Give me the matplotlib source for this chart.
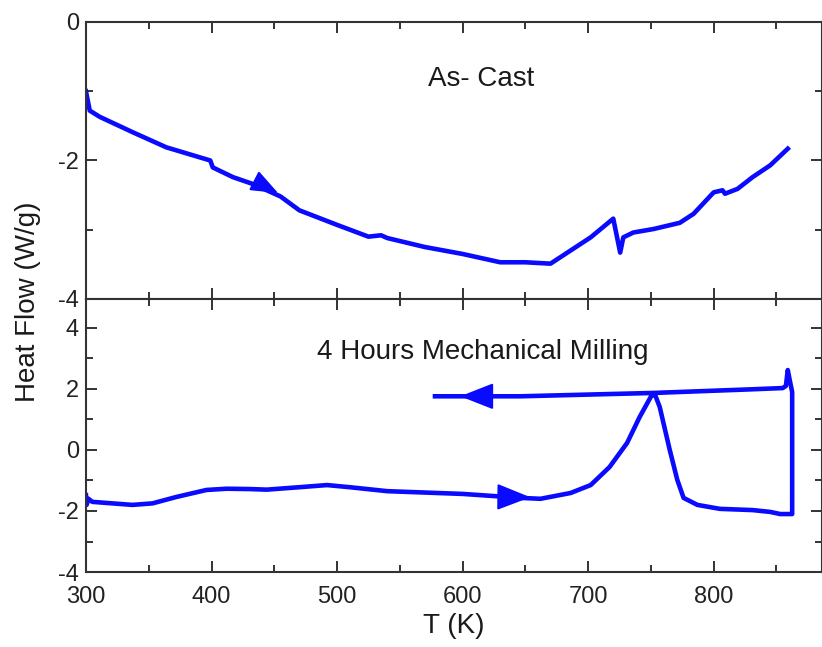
import matplotlib
matplotlib.use("Agg")
import matplotlib.pyplot as plt
from matplotlib.ticker import MultipleLocator

plt.rcParams["font.family"] = ["Liberation Sans", "DejaVu Sans"]
plt.rcParams["axes.unicode_minus"] = False

# As-cast DSC trace (heating)
cast_T = [300, 300.5, 303, 311, 337, 364, 399, 401, 417, 433, 455, 470, 500, 525, 535,
          540, 570, 600, 630, 650, 670, 686, 702, 720, 725.5, 728, 736, 752, 773, 784,
          800, 807, 809, 819, 831, 845, 859]
cast_hf = [-1.0, -1.05, -1.28, -1.37, -1.59, -1.81, -2.00, -2.10, -2.24, -2.34, -2.52,
           -2.72, -2.93, -3.10, -3.08, -3.12, -3.25, -3.35, -3.47, -3.47, -3.49, -3.30,
           -3.11, -2.84, -3.33, -3.11, -3.04, -2.99, -2.90, -2.77, -2.46, -2.43, -2.48,
           -2.41, -2.24, -2.07, -1.83]

# 4 h milled trace: heating up to ~862 K, then cooling back
mill_T = [300, 300.5, 302, 305, 337, 353, 372, 396, 412, 430, 444, 470, 492, 510, 540,
          600, 646, 662, 686, 702, 717, 731, 741, 750, 753, 757, 765, 771, 776, 787, 805,
          831, 845, 853, 862.5, 862.5, 861, 859, 857.5, 855, 831, 752, 646, 578]
mill_hf = [-1.48, -1.8, -1.6, -1.7, -1.8, -1.75, -1.54, -1.31, -1.27, -1.28, -1.30,
           -1.22, -1.15, -1.22, -1.35, -1.44, -1.57, -1.60, -1.41, -1.15, -0.56, 0.23,
           1.08, 1.75, 1.84, 1.41, 0.0, -0.98, -1.57, -1.80, -1.93, -1.97, -2.03, -2.10,
           -2.10, 1.9, 2.2, 2.62, 2.1, 2.03, 1.99, 1.87, 1.76, 1.76]

# arrows: (base T, base HF, tip T, tip HF)
cast_arrows = [(438, -2.33, 453, -2.47)]
mill_arrows = [(634, -1.54, 654, -1.55), (616, 1.76, 598, 1.76)]

blue = "#0a0aff"
ink = "#1a1a1a"
fig = plt.figure(figsize=(8.22, 6.47), dpi=100)
ax1 = fig.add_axes([0.1046, 0.5379, 0.8950, 0.4281])
ax2 = fig.add_axes([0.1046, 0.1159, 0.8950, 0.4220])


def arrow_props(scale):
    return dict(arrowstyle="-|>,head_length=1.4,head_width=0.55",
                color=blue, lw=1.5, shrinkA=0, shrinkB=0, mutation_scale=scale)


def style(ax):
    ax.set_xlim(300, 886)
    ax.xaxis.set_major_locator(MultipleLocator(100))
    ax.xaxis.set_minor_locator(MultipleLocator(50))
    ax.yaxis.set_major_locator(MultipleLocator(2))
    ax.yaxis.set_minor_locator(MultipleLocator(1))
    ax.tick_params(which="both", direction="in", top=True, right=True,
                   labelsize=17, color="#333333", labelcolor="#222222", width=1.4)
    ax.tick_params(which="major", length=8)
    ax.tick_params(which="minor", length=5)
    ax.tick_params(axis="y", pad=5)
    ax.tick_params(axis="x", pad=10)
    for s in ax.spines.values():
        s.set_color("#333333")
        s.set_linewidth(1.5)


ax1.plot(cast_T, cast_hf, color=blue, lw=3.3, solid_joinstyle="round")
ax1.set_ylim(-4, 0)
style(ax1)
ax1.tick_params(labelbottom=False)
ax1.text(615, -0.82, "As- Cast", fontsize=20, ha="center", va="center", color=ink)
for x0, y0, x1, y1 in cast_arrows:
    ax1.annotate("", xy=(x1, y1), xytext=(x0, y0), arrowprops=arrow_props(12))

ax2.plot(mill_T, mill_hf, color=blue, lw=3.3, solid_joinstyle="round")
ax2.set_ylim(-4, 4.95)
style(ax2)
ax2.text(484, 3.22, "4 Hours Mechanical Milling", fontsize=20, ha="left", va="center",
         color=ink)
for x0, y0, x1, y1 in mill_arrows:
    ax2.annotate("", xy=(x1, y1), xytext=(x0, y0), arrowprops=arrow_props(15))

ax2.set_xlabel("T (K)", fontsize=20, color=ink, labelpad=4)
fig.text(0.034, 0.533, "Heat Flow (W/g)", rotation=90, fontsize=20, ha="center",
         va="center", color=ink)

fig.savefig("out.png", dpi=100)
